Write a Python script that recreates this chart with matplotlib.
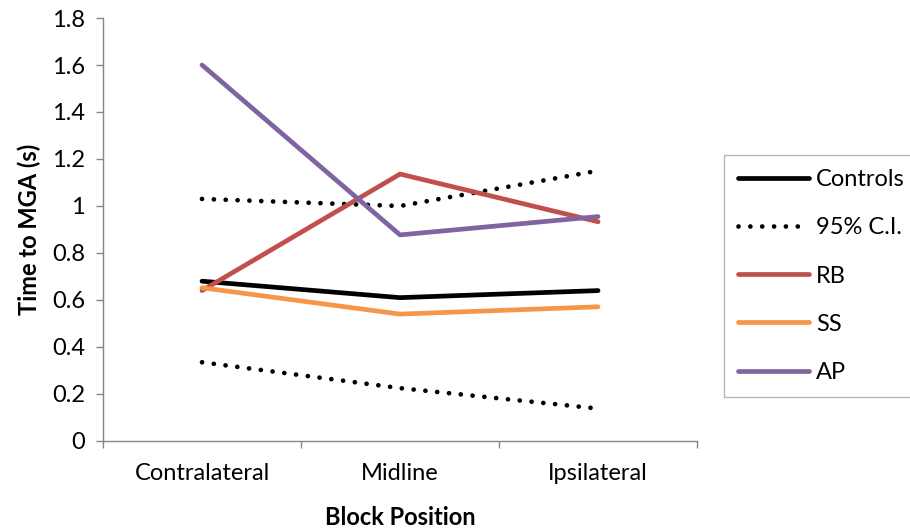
import matplotlib
matplotlib.use("Agg")
import matplotlib.pyplot as plt

plt.rcParams['font.family'] = ['Lato', 'DejaVu Sans']

# Data
positions = ['Contralateral', 'Midline', 'Ipsilateral']
controls = [0.68, 0.61, 0.64]
ci_upper = [1.03, 1.0, 1.15]
ci_lower = [0.335, 0.225, 0.138]
rb = [0.64, 1.136, 0.933]
ss = [0.652, 0.54, 0.571]
ap = [1.6, 0.877, 0.955]

fig = plt.figure(figsize=(9.1, 5.31), dpi=100)
ax = fig.add_axes([0.1132, 0.1695, 0.6528, 0.7966])

fs = 17
lw = 3.4
x = range(len(positions))
dots = (0, (0.01, 2.5))
ax.plot(x, controls, color='black', lw=lw, label='Controls', solid_capstyle='round')
ax.plot(x, ci_upper, color='black', lw=lw, ls=dots, dash_capstyle='round', label='95% C.I.')
ax.plot(x, ci_lower, color='black', lw=lw, ls=dots, dash_capstyle='round')
ax.plot(x, rb, color='#C0504D', lw=lw, label='RB', solid_capstyle='round')
ax.plot(x, ss, color='#F79646', lw=lw, label='SS', solid_capstyle='round')
ax.plot(x, ap, color='#8064A2', lw=lw, label='AP', solid_capstyle='round')

ax.set_xlim(-0.5, 2.5)
ax.set_ylim(0, 1.8)
ax.set_yticks([i * 0.2 for i in range(10)])
ax.set_yticklabels(['0', '0.2', '0.4', '0.6', '0.8', '1', '1.2', '1.4', '1.6', '1.8'])
ax.set_xticks(list(x))
ax.set_xticklabels(positions)
ax.set_xticks([-0.5, 0.5, 1.5, 2.5], minor=True)
ax.tick_params(axis='x', which='major', length=0, pad=16, labelsize=fs)
ax.tick_params(axis='x', which='minor', length=5, color='#868686', width=1)
ax.tick_params(axis='y', length=5, color='#868686', width=1, labelsize=fs, pad=8)

for s in ['top', 'right']:
    ax.spines[s].set_visible(False)
for s in ['left', 'bottom']:
    ax.spines[s].set_color('#868686')
    ax.spines[s].set_linewidth(1)

ax.set_xlabel('Block Position', fontsize=fs, fontweight='bold', labelpad=16)
ax.set_ylabel('Time to MGA (s)', fontsize=fs, fontweight='bold', labelpad=8)

leg = fig.legend(loc='center left', bbox_to_anchor=(0.7956, 0.4802), fontsize=fs,
                 frameon=True, fancybox=False, handlelength=3.0, handletextpad=0.3,
                 labelspacing=1.15, borderpad=0.6, borderaxespad=0)
leg.get_frame().set_edgecolor('#A6A6A6')
leg.get_frame().set_linewidth(1)

fig.savefig('out.png', dpi=100)
